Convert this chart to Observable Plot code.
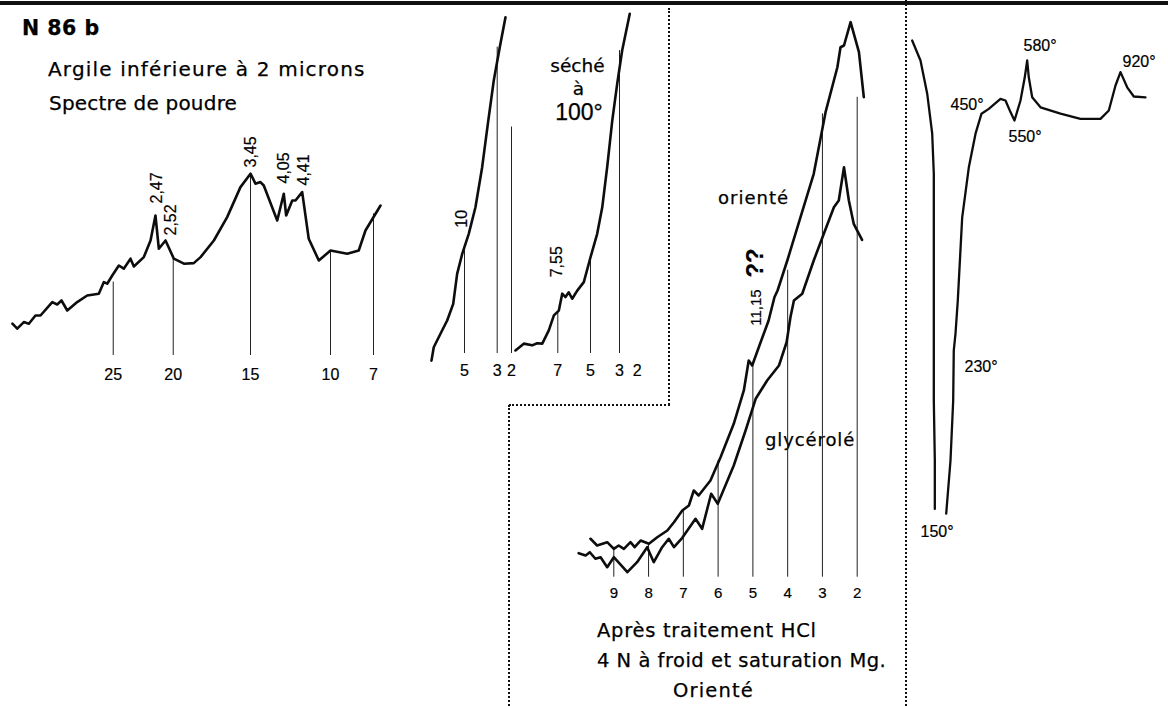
<!DOCTYPE html>
<html><head><meta charset="utf-8">
<script src="https://cdn.jsdelivr.net/npm/d3@7"></script>
<script src="https://cdn.jsdelivr.net/npm/@observablehq/plot@0.6"></script>
<style>
html,body{margin:0;padding:0;background:#fff;}
#fig{position:relative;width:1168px;height:706px;overflow:hidden;background:#fff;color:#000;}
.t{position:absolute;white-space:nowrap;line-height:1;font-family:"DejaVu Sans",sans-serif;color:#000;-webkit-text-stroke:0.25px #000;}
.n{font-family:"Liberation Sans",Arial,sans-serif;}
.c{transform:translateX(-50%);}
.panel{position:absolute;}
.panel text{stroke:#000;stroke-width:0.2px;}
.dotv{position:absolute;width:0;border-left:2px dotted #111;}
.doth{position:absolute;height:0;border-top:2px dotted #111;}
.topline{position:absolute;left:0;top:1px;width:1168px;height:4px;background:#111;}
</style></head>
<body><div id="fig">
<div class="topline"></div>
<div class="dotv" style="left:668px;top:8px;height:397px"></div>
<div class="doth" style="left:509px;top:404px;width:161px"></div>
<div class="dotv" style="left:508px;top:405px;height:301px"></div>
<div class="dotv" style="left:905px;top:0px;height:706px"></div>

<div class="t" style="left:22px;top:17.7px;font-size:20.5px;font-weight:bold;letter-spacing:0.5px">N 86 b</div>
<div class="t" style="left:48px;top:59.1px;font-size:20px;letter-spacing:1.17px">Argile inférieure à 2 microns</div>
<div class="t" style="left:49px;top:93.1px;font-size:20px;letter-spacing:0.2px">Spectre de poudre</div>

<div class="t c" style="left:577.5px;top:56.8px;font-size:18.5px">séché</div>
<div class="t c" style="left:578.5px;top:79.8px;font-size:18.5px">à</div>
<div class="t n c" style="left:579px;top:100.5px;font-size:23px">100°</div>

<div class="t" style="left:718px;top:188.8px;font-size:18px;letter-spacing:1px">orienté</div>
<div class="t" style="left:765px;top:430.8px;font-size:18px;letter-spacing:0.9px">glycérolé</div>

<div class="t" style="left:597px;top:620.5px;font-size:19.5px;letter-spacing:0.72px">Après traitement HCl</div>
<div class="t" style="left:597px;top:650.5px;font-size:19.5px;letter-spacing:0.5px">4 N à froid et saturation Mg.</div>
<div class="t" style="left:673px;top:680.5px;font-size:19.5px;letter-spacing:1.15px">Orienté</div>

<div class="panel" id="pA" style="left:0px;top:140px;width:400px;height:250px"></div>
<div class="panel" id="pB1" style="left:420px;top:0px;width:100px;height:400px"></div>
<div class="panel" id="pB2" style="left:515px;top:0px;width:155px;height:400px"></div>
<div class="panel" id="pC" style="left:560px;top:0px;width:345px;height:610px"></div>
<div class="panel" id="pD" style="left:905px;top:0px;width:263px;height:560px"></div>
</div>
<script>
// ---------- Panel A: Spectre de poudre (x: axis reading, y: intensity, arbitrary units)
const powderTicks = [25, 20, 15, 10, 7];
const powderTickTop = [36.7, 48.4, 90, 51.7, 70.8];
const powderX = [33.4, 33.0, 32.45, 32.03, 31.48, 31.06, 30.08, 29.67, 29.31, 28.83, 28.0, 27.17, 26.2, 25.78, 25.5, 25.08, 24.53, 24.12, 23.56, 23.28, 22.45, 21.89, 21.48, 21.2, 20.64, 19.96, 19.31, 18.67, 18.23, 17.37, 16.51, 15.65, 15, 14.69, 14.38, 14.17, 13.33, 12.92, 12.77, 12.39, 12.19, 11.77, 11.36, 10.73, 10, 8.83, 8.03, 7.56, 6.51];
const powderI = [15.9, 13.4, 16.7, 15.9, 20, 20, 26.7, 25.5, 27.5, 22.5, 26.7, 30, 30.9, 36.7, 35.9, 40, 45, 43.4, 48.4, 44.5, 49.2, 57.5, 70, 53.4, 57.5, 48.4, 45.9, 46.2, 49.2, 57.5, 69.2, 84.2, 90.9, 85.9, 86.7, 85, 67.5, 80.9, 70, 77.5, 77.5, 81.7, 58.4, 47.5, 52.5, 50.9, 52.5, 62.5, 75];
const powderPeakText = ["2,47", "2,52", "3,45", "4,05", "4,41"];
const powderPeakX = [21.39, 20.23, 15, 12.94, 11.69];
const powderPeakY = [76, 60, 94, 86, 85];

// ---------- Panel B1: non traité
const b1Ticks = [5, 3, 2];
const b1RuleTop = [31.3, 90.1, 66.6];
const b1X = [7.02, 6.88, 6.47, 6.06, 5.69, 5.45, 5.14, 4.74, 4.33, 3.92, 3.57, 3.21, 2.82, 2.42];
const b1I = [-2.1, 1.85, 5.8, 9.7, 14.6, 23.4, 29.3, 35.2, 43.0, 54.8, 67.6, 80.3, 90.1, 98.9];
const b1LabelText = ["10"];
const b1LabelX = [5.18];
const b1LabelY = [37];

// ---------- Panel B2: séché à 100°
const b2Ticks = [7, 5, 3, 2];
const b2RuleX = [7, 5, 3];
const b2RuleTop = [12.1, 28.3, 89.1];
const b2X = [9.59, 9.08, 8.57, 8.26, 7.95, 7.55, 7.24, 6.94, 6.73, 6.53, 6.33, 6.12, 5.81, 5.41, 5, 4.54, 4.19, 3.85, 3.50, 3.16, 2.85, 2.42];
const b2I = [0.9, 2.9, 2.4, 3.0, 2.9, 6.8, 11.2, 12.6, 17.6, 16.6, 18.0, 16.1, 18.5, 21.0, 28.3, 35.2, 43.0, 54.8, 68.5, 79.3, 89.1, 99.9];
const b2LabelText = ["7,55"];
const b2LabelX = [7.08];
const b2LabelY = [22.4];

// ---------- Panel C: après traitement HCl (orienté / glycérolé)
const hclTicks = [9, 8, 7, 6, 5, 4, 3, 2];
const hclRuleTop = [5.36, 5.96, 11.9, 20.8, 38.1, 54.8, 82.75, 85.7];
const orienteX = [9.67, 9.48, 9.19, 9.00, 8.86, 8.71, 8.52, 8.40, 8.23, 7.99, 7.75, 7.46, 7.27, 7.03, 6.84, 6.70, 6.56, 6.22, 5.93, 5.55, 5.26, 5.12, 5.02, 4.83, 4.55, 4.38, 4.29, 4.01, 3.63, 3.25, 2.91, 2.57, 2.48, 2.38, 2.19, 1.95, 1.81];
const orienteI = [6.86, 5.66, 6.25, 5.07, 5.66, 5.07, 6.25, 5.36, 6.55, 5.96, 7.14, 8.34, 9.82, 11.91, 12.8, 15.48, 14.59, 17.27, 21.43, 27.39, 33.34, 38.7, 37.8, 41.07, 45.8, 50.0, 51.2, 56.55, 64.29, 72.04, 83.04, 91.07, 94.64, 94.95, 99.11, 93.75, 85.71];
const glyceroleX = [10.01, 9.81, 9.69, 9.53, 9.38, 9.19, 9.00, 8.61, 8.33, 8.04, 7.85, 7.61, 7.42, 7.27, 7.03, 6.65, 6.46, 6.20, 6.01, 5.55, 5.21, 4.92, 4.59, 4.25, 4.03, 3.92, 3.82, 3.58, 3.25, 2.96, 2.67, 2.53, 2.38, 2.24, 2.10, 1.86];
const glyceroleI = [4.29, 3.88, 4.46, 3.29, 3.57, 1.79, 3.57, 0.89, 2.68, 5.36, 2.68, 5.36, 6.86, 5.36, 7.04, 10.43, 8.64, 14.89, 13.11, 19.95, 26.2, 31.86, 35.13, 37.8, 41.96, 46.43, 49.41, 50.61, 56.55, 61.32, 66.07, 67.27, 73.21, 67.27, 63.11, 60.25];
const hclLabelText = ["11,15", "??"];
const hclLabelX = [4.90, 4.94];
const hclLabelY = [44.9, 53.5];

// ---------- Panel D: analyse thermique différentielle (T in °C, ΔT arbitrary)
const dtaAxisT = [20, 150, 230, 450, 550, 580, 920, 1000];
const dtaDownT = [23, 60.3, 90.4, 112.8, 120, 120, 120, 120, 120, 124.5, 124.5];
const dtaDownD = [15, 10, 1.7, -8.3, -18.3, -33.3, -50, -62.5, -75, -90, -102.1];
const dtaUpT = [186.5, 214, 231.5, 236, 249.3, 267, 301, 352.2, 403.9, 450, 472.1, 507.6, 522.7, 537.9, 550, 564.2, 574.3, 580, 585.8, 598.2, 628.5, 701.3, 774.2, 847.1, 877.4, 901.8, 920, 941.4, 962.6, 1000];
const dtaUpD = [-103.3, -90, -75, -62.5, -58.3, -50, -29.2, -16.7, -8.3, -3.3, -2.1, 0.4, 0, -2.9, -5, 0, 5.8, 10, 5.8, 0.8, -1.7, -3.3, -4.6, -4.6, -2.5, 3.75, 7.1, 3.3, 1, 0.8];
const dtaLabelText = ["580°", "920°", "450°", "550°", "230°", "150°"];
const dtaLabelT = [571.3, 926.4, 214, 531.8, 318.8, 60.3];
const dtaLabelD = [13.75, 9.75, -1, -9, -66.5, -107.75];

// ---------- helpers
const zip = (xs, ys) => xs.map((x, i) => ({x, y: ys[i]}));
const labels = (ts, xs, ys) => ts.map((t, i) => ({text: t, x: xs[i], y: ys[i]}));
const rules = (xs, tops) => xs.map((x, i) => ({x, top: tops[i]}));
const FONT = "Liberation Sans, Arial, sans-serif";
const INK = "#0d0d0d";
const baseStyle = (fs) => ({background: "transparent", overflow: "visible", fontFamily: FONT, fontSize: fs + "px", color: "#000"});
const curve = (data, w) => Plot.line(data, {x: "x", y: "y", stroke: INK, strokeWidth: w || 2.6, strokeLinejoin: "round", strokeLinecap: "round"});
const ruleMark = (data) => Plot.ruleX(data, {x: "x", y1: 0, y2: "top", stroke: "#222", strokeWidth: 1});
const rotLabels = (data, fs, weight) => Plot.text(data, {x: "x", y: "y", text: "text", rotate: -90, textAnchor: "start", lineAnchor: "middle", fontSize: fs, fontWeight: weight || "normal", fontFamily: FONT, fill: "#000"});
// hand-drawn (non-uniform) axis: the drawn tick marks define the scale, interpolated between them
const tickAxis = (ticks, fractions, width) => {
  const s = d3.scaleLinear().domain(ticks).range(fractions.map(f => f * width));
  return {transform: (v) => s(v), domain: [0, width], range: [0, width], axis: null};
};
const tickLabels = (ticks, dy, fs) => Plot.text(ticks, {x: (d) => d, text: (d) => String(d), frameAnchor: "bottom", lineAnchor: "top", dy, fontSize: fs, fontFamily: FONT, fill: "#000"});
function mount(id, svg) { document.getElementById(id).appendChild(svg); }

// Panel A
mount("pA", Plot.plot({
  width: 400, height: 250, marginTop: 0, marginLeft: 0, marginRight: 0, marginBottom: 35,
  style: baseStyle(16),
  x: tickAxis(powderTicks, [0.2818, 0.4318, 0.625, 0.825, 0.9325], 400),
  y: {domain: [0, 100], range: [215, 15], axis: null},
  marks: [
    ruleMark(rules(powderTicks, powderTickTop)),
    curve(zip(powderX, powderI)),
    rotLabels(labels(powderPeakText, powderPeakX, powderPeakY), 16),
    tickLabels(powderTicks, 13, 16)
  ]
}));

// Panel B1
mount("pB1", Plot.plot({
  width: 100, height: 400, marginTop: 0, marginLeft: 0, marginRight: 0, marginBottom: 47,
  style: baseStyle(16),
  x: tickAxis(b1Ticks, [0.44, 0.767, 0.91], 100),
  y: {domain: [0, 100], range: [353, 13], axis: null},
  marks: [
    ruleMark(rules(b1Ticks, b1RuleTop)),
    curve(zip(b1X, b1I)),
    rotLabels(labels(b1LabelText, b1LabelX, b1LabelY), 16),
    tickLabels(b1Ticks, 11, 16)
  ]
}));

// Panel B2
mount("pB2", Plot.plot({
  width: 155, height: 400, marginTop: 0, marginLeft: 0, marginRight: 0, marginBottom: 47,
  style: baseStyle(16),
  x: tickAxis(b2Ticks, [0.2729, 0.4839, 0.671, 0.7852], 155),
  y: {domain: [0, 100], range: [353, 13], axis: null},
  marks: [
    ruleMark(rules(b2RuleX, b2RuleTop)),
    curve(zip(b2X, b2I)),
    rotLabels(labels(b2LabelText, b2LabelX, b2LabelY), 16),
    tickLabels(b2Ticks, 11, 16)
  ]
}));

// Panel C
const hclLab = labels(hclLabelText, hclLabelX, hclLabelY);
mount("pC", Plot.plot({
  width: 345, height: 610, marginTop: 0, marginLeft: 0, marginRight: 0, marginBottom: 33.3,
  style: baseStyle(15),
  x: {domain: [9, 2], range: [53.3, 296.7], axis: null},
  y: {domain: [0, 100], range: [576.7, 16.7], axis: null},
  marks: [
    ruleMark(rules(hclTicks, hclRuleTop)),
    curve(zip(orienteX, orienteI)),
    curve(zip(glyceroleX, glyceroleI)),
    rotLabels([hclLab[0]], 15),
    rotLabels([hclLab[1]], 24, "bold"),
    tickLabels(hclTicks, 10, 15)
  ]
}));

// Panel D
mount("pD", Plot.plot({
  width: 263, height: 560, margin: 0,
  style: baseStyle(16),
  x: tickAxis(dtaAxisT, [0.0228, 0.1331, 0.1806, 0.289, 0.4144, 0.4627, 0.8175, 0.9125], 263),
  y: {domain: [-110, 20], range: [540, 20], axis: null},
  marks: [
    curve(zip(dtaDownT, dtaDownD), 2.3),
    curve(zip(dtaUpT, dtaUpD), 2.3),
    Plot.text(labels(dtaLabelText, dtaLabelT, dtaLabelD), {x: "x", y: "y", text: "text", textAnchor: "start", lineAnchor: "middle", fontSize: 16, fontFamily: FONT, fill: "#000"})
  ]
}));
</script>
</body></html>
